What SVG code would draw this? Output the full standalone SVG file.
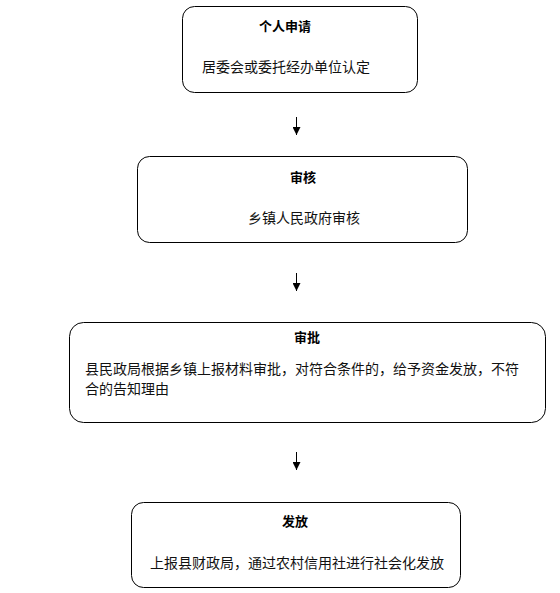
<svg xmlns="http://www.w3.org/2000/svg" width="560" height="593" viewBox="0 0 560 593">
<defs>
<style>
.box{fill:#fff;stroke:#000;stroke-width:1}
.t{font-family:"Noto Sans CJK SC","Noto Sans",sans-serif;font-size:13px;font-weight:bold;fill:#000;text-anchor:middle}
.b{font-family:"Noto Sans CJK SC","Noto Sans",sans-serif;font-size:14px;fill:#111}
.c{stroke:#000;stroke-width:1;fill:none}
</style>
<marker id="ah" viewBox="0 0 10 10" refX="10" refY="5" markerWidth="8" markerHeight="8" markerUnits="userSpaceOnUse" orient="auto">
<path d="M0,0 L10,5 L0,10 z" fill="#000"/>
</marker>
</defs>
<rect width="560" height="593" fill="#fff"/>
<g id="node1">
<rect class="box" x="182.5" y="6.5" width="235" height="86" rx="12"/>
<text class="t" x="285" y="31">个人申请</text>
<text class="b" x="202" y="72">居委会或委托经办单位认定</text>
</g>
<g id="node2">
<rect class="box" x="137.5" y="156.5" width="330" height="86" rx="12"/>
<text class="t" x="303" y="182">审核</text>
<text class="b" x="248" y="223">乡镇人民政府审核</text>
</g>
<g id="node3">
<rect class="box" x="69.5" y="322.5" width="476" height="100" rx="14"/>
<text class="t" x="307" y="342">审批</text>
<text class="b" x="85" y="374">县民政局根据乡镇上报材料审批，对符合条件的，给予资金发放，不符</text>
<text class="b" x="85" y="394">合的告知理由</text>
</g>
<g id="node4">
<rect class="box" x="131.5" y="502.5" width="329" height="85" rx="12"/>
<text class="t" x="295" y="526">发放</text>
<text class="b" x="150" y="568">上报县财政局，通过农村信用社进行社会化发放</text>
</g>
<g id="connectors">
<line class="c" x1="296.5" y1="117" x2="296.5" y2="135" marker-end="url(#ah)"/>
<line class="c" x1="296.5" y1="273" x2="296.5" y2="291" marker-end="url(#ah)"/>
<line class="c" x1="296.5" y1="452" x2="296.5" y2="470" marker-end="url(#ah)"/>
</g>
</svg>
